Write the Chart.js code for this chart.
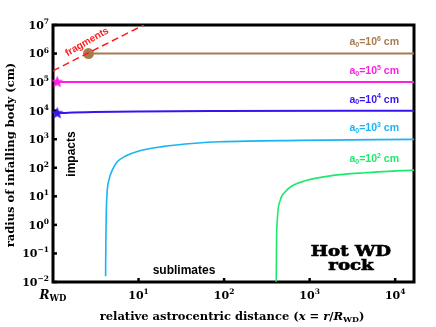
<!DOCTYPE html>
<html>
<head>
<meta charset="utf-8">
<script src="https://cdn.jsdelivr.net/npm/chart.js@4.4.1/dist/chart.umd.min.js"></script>
<style>body{margin:0;background:#fff}</style>
</head>
<body>
<canvas id="myChart" width="436" height="327"></canvas>
<script>
// values
var xTicks = [1, 10, 100, 1000, 10000];
var xTickExp = ['', '1', '2', '3', '4'];   // 1 is shown as R_WD
var yTicks = [1e-2, 1e-1, 1, 10, 100, 1e3, 1e4, 1e5, 1e6, 1e7];
var yTickExp = ['\u22122', '\u22121', '0', '1', '2', '3', '4', '5', '6', '7'];

var fragX = [1, 11.5];
var fragY = [2.5e5, 1e7];
var brownX = [2.6, 16600];
var brownY = [1e6, 1e6];
var magX = [1.12, 16600];
var magY = [1e5, 1e5];
var blueX = [1.12, 1.5, 3, 10, 90, 16600];
var blueY = [8100, 8500, 9000, 9400, 9700, 10000];
var cyanX = [4.12, 4.15, 4.2, 4.31, 4.5, 4.93, 5.64, 7.05, 10.1, 18.9, 46, 90, 776, 16600];
var cyanY = [0.016, 0.3, 3, 16.7, 37, 83, 162, 257, 389, 550, 724, 813, 912, 990];
var greenX = [407, 410, 419, 454, 519, 621, 887, 1820, 4460, 16600];
var greenY = [0.0102, 0.2, 1.5, 7.4, 14.5, 23, 35, 53, 67, 83];
var curveExp = ['6', '5', '4', '3', '2'];

var BROWN = '#a87a4e', MAG = '#ff1ee0', BLUE = '#3a14ee', CYAN = '#1ab4f5', GREEN = '#1ee870', RED = '#ff1a1a';
var SERIF = '"DejaVu Serif"', SANS = '"Liberation Sans"';

function pts(xs, ys) {
    return xs.map(function (x, i) { return {x: x, y: ys[i]} })
}

function starCanvas(color, r) {
    var c = document.createElement('canvas');
    c.width = c.height = 2 * r + 2;
    var g = c.getContext('2d');
    g.fillStyle = color;
    g.beginPath();
    for (var i = 0; i < 10; i++) {
        var rr = i % 2 ? r * 0.42 : r;
        var a = -Math.PI / 2 + i * Math.PI / 5;
        g.lineTo(r + 1 + rr * Math.cos(a), r + 1 + rr * Math.sin(a));
    }
    g.closePath();
    g.fill();
    return c;
}

function rich(ctx, parts, x, y, align) {
    var w = 0;
    parts.forEach(function (p) { ctx.font = p.f; p.w = ctx.measureText(p.t).width; w += p.w });
    var cx = align == 'right' ? x - w : align == 'center' ? x - w / 2 : x;
    ctx.textAlign = 'left';
    ctx.textBaseline = 'middle';
    parts.forEach(function (p) { ctx.font = p.f; ctx.fillText(p.t, cx, y + (p.dy || 0)); cx += p.w });
}

var decor = {
    id: 'decor',
    beforeDatasetsDraw: function (chart) {
        var ctx = chart.ctx, a = chart.chartArea;
        var xs = chart.scales.x, ys = chart.scales.y;
        ctx.save();
        // frame
        ctx.strokeStyle = '#000';
        ctx.lineWidth = 3;
        ctx.strokeRect(a.left, a.top, a.right - a.left, a.bottom - a.top);
        // inward ticks
        ctx.lineWidth = 2.5;
        yTicks.forEach(function (v) {
            var p = ys.getPixelForValue(v);
            ctx.beginPath(); ctx.moveTo(a.left, p); ctx.lineTo(a.left + 4, p); ctx.stroke();
        });
        xTicks.slice(1).forEach(function (v) {
            var p = xs.getPixelForValue(v);
            ctx.beginPath(); ctx.moveTo(p, a.bottom); ctx.lineTo(p, a.bottom - 4); ctx.stroke();
        });
        ctx.restore();
    },
    afterDatasetsDraw: function (chart) {
        var ctx = chart.ctx, a = chart.chartArea;
        var xs = chart.scales.x, ys = chart.scales.y;
        ctx.save();
        // tick labels
        ctx.fillStyle = '#000';
        var big = 'bold 11px ' + SERIF, small = 'bold 7.5px ' + SERIF;
        yTicks.forEach(function (v, i) {
            rich(ctx, [{t: '10', f: big}, {t: yTickExp[i], f: small, dy: -4}], a.left - 4, ys.getPixelForValue(v) + 1, 'right');
        });
        xTicks.forEach(function (v, i) {
            var p = xs.getPixelForValue(v);
            if (xTickExp[i] === '') {
                rich(ctx, [{t: 'R', f: 'italic bold 12px ' + SERIF}, {t: 'WD', f: 'bold 8.5px ' + SERIF, dy: 3}], p, 296, 'center');
            } else {
                rich(ctx, [{t: '10', f: big}, {t: xTickExp[i], f: small, dy: -4}], p, 296, 'center');
            }
        });
        // axis titles
        var tf = 'bold 11.5px ' + SERIF, ti = 'italic bold 11.5px ' + SERIF;
        rich(ctx, [{t: 'relative astrocentric distance (', f: tf}, {t: 'x', f: ti}, {t: ' = ', f: tf},
            {t: 'r', f: ti}, {t: '/', f: tf}, {t: 'R', f: ti}, {t: 'WD', f: 'bold 8px ' + SERIF, dy: 3}, {t: ')', f: tf}],
            232, 317, 'center');
        ctx.save();
        ctx.translate(11, 155);
        ctx.rotate(-Math.PI / 2);
        rich(ctx, [{t: 'radius of infalling body (cm)', f: tf}], 0, 0, 'center');
        ctx.restore();
        // curve labels
        var cols = [BROWN, MAG, BLUE, CYAN, GREEN];
        var lastY = [brownY, magY, blueY, cyanY, greenY];
        var lf = 'bold 10.5px ' + SANS, ls = 'bold 7px ' + SANS;
        curveExp.forEach(function (e, i) {
            ctx.fillStyle = cols[i];
            var yv = lastY[i][lastY[i].length - 1];
            rich(ctx, [{t: 'a', f: lf}, {t: '0', f: ls, dy: 2.5}, {t: '=10', f: lf}, {t: e, f: ls, dy: -3.5}, {t: ' cm', f: lf}],
                399, ys.getPixelForValue(yv) - 11, 'right');
        });
        // annotations
        ctx.fillStyle = RED;
        ctx.save();
        ctx.translate(87, 42);
        ctx.rotate(-0.52);
        rich(ctx, [{t: 'fragments', f: 'bold 10px ' + SANS}], 0, 0, 'center');
        ctx.restore();
        ctx.fillStyle = '#000';
        rich(ctx, [{t: 'sublimates', f: 'bold 12px ' + SANS}], 184, 271, 'center');
        ctx.save();
        ctx.translate(72, 154);
        ctx.rotate(-Math.PI / 2);
        rich(ctx, [{t: 'impacts', f: 'bold 12px ' + SANS}], 0, 0, 'center');
        ctx.restore();
        ctx.save();
        ctx.translate(351, 0);
        ctx.scale(1.3, 1);
        ctx.strokeStyle = '#000';
        ctx.lineWidth = 0.6;
        ctx.font = 'bold 14px ' + SERIF;
        ctx.textAlign = 'center';
        ctx.textBaseline = 'middle';
        ctx.fillText('Hot WD', 0, 252);
        ctx.strokeText('Hot WD', 0, 252);
        ctx.fillText('rock', 0, 266);
        ctx.strokeText('rock', 0, 266);
        ctx.restore();
        ctx.restore();
    }
};

function lineSet(xs, ys, color, w, extra) {
    var d = {data: pts(xs, ys), borderColor: color, backgroundColor: color, borderWidth: w,
        pointRadius: 0, fill: false, cubicInterpolationMode: 'monotone'};
    return Object.assign(d, extra || {});
}

const ctx = document.getElementById('myChart');
new Chart(ctx, {
    type: 'line',
    data: {
        datasets: [
            lineSet(fragX, fragY, RED, 1.5, {borderDash: [7, 4]}),
            lineSet(brownX, brownY, BROWN, 2),
            lineSet(magX, magY, MAG, 2),
            lineSet(blueX, blueY, BLUE, 2),
            lineSet(cyanX, cyanY, CYAN, 1.6),
            lineSet(greenX, greenY, GREEN, 1.6),
            {data: [{x: brownX[0], y: brownY[0]}], showLine: false, pointRadius: 5.5,
                pointBackgroundColor: BROWN, pointBorderColor: BROWN, pointBorderWidth: 0},
            {data: [{x: magX[0], y: magY[0]}], showLine: false, pointStyle: starCanvas(MAG, 6.5), clip: false},
            {data: [{x: blueX[0], y: blueY[0]}], showLine: false, pointStyle: starCanvas(BLUE, 6.5), clip: false}
        ]
    },
    options: {
        responsive: false,
        animation: false,
        devicePixelRatio: 1,
        layout: {padding: {top: 25, right: 22, left: 0, bottom: 0}},
        plugins: {legend: {display: false}, tooltip: {enabled: false}},
        scales: {
            x: {type: 'logarithmic', min: 1, max: 16600, grid: {display: false}, border: {display: false},
                ticks: {display: false}, afterFit: function (s) { s.height = 45 }},
            y: {type: 'logarithmic', min: 0.01, max: 1e7, grid: {display: false}, border: {display: false},
                ticks: {display: false}, afterFit: function (s) { s.width = 53 }}
        }
    },
    plugins: [decor]
});
</script>
</body>
</html>
